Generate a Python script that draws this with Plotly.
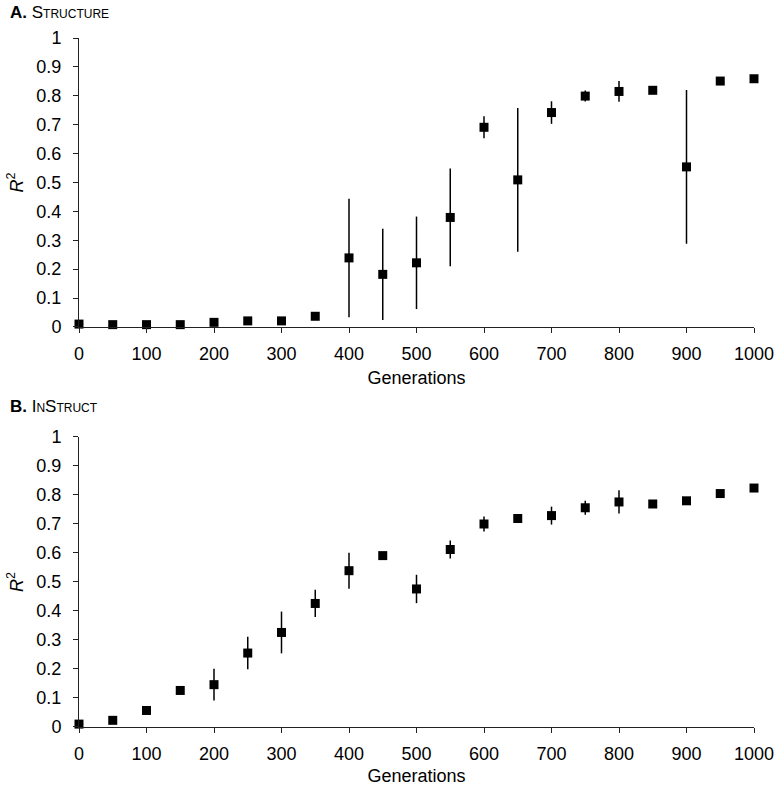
import plotly.graph_objects as go

generations = [0, 50, 100, 150, 200, 250, 300, 350, 400, 450, 500,
               550, 600, 650, 700, 750, 800, 850, 900, 950, 1000]

structure_r2 = [0.010, 0.008, 0.008, 0.008, 0.016, 0.021, 0.021, 0.037, 0.239, 0.182, 0.222,
                0.379, 0.691, 0.509, 0.742, 0.799, 0.815, 0.819, 0.554, 0.851, 0.859]
structure_err = [0.003, 0.003, 0.003, 0.003, 0.004, 0.004, 0.004, 0.005, 0.205, 0.158, 0.160,
                 0.169, 0.038, 0.249, 0.039, 0.019, 0.036, 0.004, 0.266, 0.010, 0.004]

instruct_r2 = [0.010, 0.023, 0.057, 0.126, 0.146, 0.255, 0.326, 0.426, 0.539, 0.591, 0.476,
               0.612, 0.700, 0.719, 0.729, 0.756, 0.776, 0.769, 0.780, 0.805, 0.824]
instruct_err = [0.003, 0.003, 0.004, 0.010, 0.055, 0.056, 0.072, 0.047, 0.062, 0.004, 0.049,
                0.031, 0.026, 0.004, 0.031, 0.024, 0.040, 0.004, 0.004, 0.005, 0.004]

x_ticks = list(range(0, 1001, 100))
y_ticks = [round(i * 0.1, 1) for i in range(11)]
y_tick_labels = ["0", "0.1", "0.2", "0.3", "0.4", "0.5", "0.6", "0.7", "0.8", "0.9", "1"]

FONT = "Liberation Sans, Arial, Helvetica, sans-serif"

fig = go.Figure()

for vals, errs, xa, ya in [(structure_r2, structure_err, "x", "y"),
                           (instruct_r2, instruct_err, "x2", "y2")]:
    fig.add_trace(go.Scatter(
        x=generations, y=vals, mode="markers",
        marker=dict(symbol="square", size=9, color="black"),
        error_y=dict(type="data", array=errs, visible=True, color="black",
                     thickness=1.5, width=0),
        xaxis=xa, yaxis=ya, cliponaxis=False, showlegend=False,
    ))

axis_common = dict(
    showgrid=False, zeroline=False, showline=True, linecolor="#222", linewidth=1,
    ticks="outside", ticklen=5, tickcolor="#222", tickwidth=1, automargin=False,
    ticklabeloverflow="allow",
    tickfont=dict(family=FONT, size=18, color="black"),
)

top_dom = [0.5806, 1.0]
bot_dom = [0.0, 0.4209]

title_font = dict(family=FONT, size=18, color="black")

fig.update_layout(
    width=780, height=790,
    margin=dict(l=79, r=26, t=38, b=63),
    paper_bgcolor="white", plot_bgcolor="white",
    xaxis=dict(domain=[0, 1], anchor="y", range=[0, 1000], tickvals=x_ticks,
               ticklabelstandoff=5,
               title=dict(text="Generations", font=title_font, standoff=8),
               **axis_common),
    yaxis=dict(domain=top_dom, anchor="x", range=[0, 1], tickvals=y_ticks, ticktext=y_tick_labels,
               ticklabelstandoff=8,
               title=dict(text="<i>R</i><sup>2</sup>", font=title_font, standoff=8),
               **axis_common),
    xaxis2=dict(domain=[0, 1], anchor="y2", range=[0, 1000], tickvals=x_ticks,
                ticklabelstandoff=5,
                title=dict(text="Generations", font=title_font, standoff=6),
                **axis_common),
    yaxis2=dict(domain=bot_dom, anchor="x2", range=[0, 1], tickvals=y_ticks, ticktext=y_tick_labels,
                ticklabelstandoff=8,
                title=dict(text="<i>R</i><sup>2</sup>", font=title_font, standoff=8),
                **axis_common),
)

fig.add_annotation(text="<b>A.</b> Structure", xref="paper", yref="paper",
                   x=-71/675, y=1 + 26/689, xanchor="left", yanchor="middle", showarrow=False,
                   font=dict(family=FONT, size=17, color="black", variant="small-caps"))
fig.add_annotation(text="<b>B.</b> InStruct", xref="paper", yref="paper",
                   x=-71/675, y=(727 - 406) / 689, xanchor="left", yanchor="middle", showarrow=False,
                   font=dict(family=FONT, size=17, color="black", variant="small-caps"))

# remove the page's default 8px body margin so the figure sits at the window's top-left
fig.write_html("out.html", config={"displayModeBar": False},
               post_script="document.body.style.margin='0';")
